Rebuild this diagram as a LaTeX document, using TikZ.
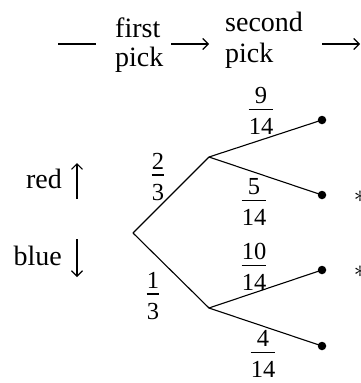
\documentclass[tikz,border=0pt]{standalone}
\usepackage{fontspec}
\setmainfont{Liberation Serif}
\usetikzlibrary{arrows.meta}
\newcommand{\fracat}[5]{%
  \node[frc,anchor=base] (#1n) at (#2,#3-5) {#4};
  \node[frc,anchor=base] (#1d) at (#2,#3+26.5) {#5};
  \draw[barl] ([yshift=9pt]#1d.north west) -- ([yshift=9pt]#1d.north east);}
\begin{document}
\begin{tikzpicture}[x=1pt,y=-1pt,
  txt/.style={inner sep=0pt,font=\fontsize{28}{30}\selectfont},
  frc/.style={inner sep=0pt,font=\fontsize{24.5}{26}\selectfont},
  barl/.style={line width=1.2pt},
  dotnode/.style={circle,fill=black,inner sep=0pt,minimum size=8.5pt},
  edge/.style={line width=1.1pt},
  arr/.style={line width=1.1pt,-{Straight Barb[length=5.5pt,width=11pt,line width=1.1pt]}},
  astk/.style={inner sep=0pt,font=\fontsize{28}{30}\selectfont}]
\useasboundingbox (0,0) rectangle (361,383);
\clip (0,0) rectangle (361,383);
% header
\node[txt,anchor=base west] (first) at (115,37) {first};
\node[txt,anchor=base west] (pick1) at (115,66) {pick};
\node[txt,anchor=base west] (second) at (225,31) {second};
\node[txt,anchor=base west] (pick2) at (225,62) {pick};
\coordinate (d1) at (58,44);
\coordinate (d2) at (96,44);
\coordinate (a1) at (171,44);
\coordinate (a2) at (209,44);
\coordinate (a3) at (322,44);
\coordinate (a4) at (360,44);
\draw[edge] (d1) -- (d2);
\draw[arr] (a1) -- (a2);
\draw[arr] (a3) -- (a4);
% side labels
\node[txt,anchor=base east] (red) at (62,188) {red};
\node[txt,anchor=base east] (blue) at (62,265) {blue};
\coordinate (u1) at (77,199);
\coordinate (u2) at (77,163);
\coordinate (v1) at (77,239);
\coordinate (v2) at (77,277);
\draw[arr] (u1) -- (u2);
\draw[arr] (v1) -- (v2);
% tree
\coordinate (root) at (133,233);
\coordinate (mr) at (209,157);
\coordinate (mb) at (209,308);
\node[dotnode] (rr) at (322,120) {};
\node[dotnode] (rb) at (322,195) {};
\node[dotnode] (br) at (322,270) {};
\node[dotnode] (bb) at (322,346) {};
\draw[edge] (root) -- (mr) -- (rr.center);
\draw[edge] (mr) -- (rb.center);
\draw[edge] (root) -- (mb) -- (br.center);
\draw[edge] (mb) -- (bb.center);
% fractions
\fracat{f23}{158}{174}{2}{3}
\fracat{f13}{153}{293}{1}{3}
\fracat{f914}{261}{108}{9}{14}
\fracat{f514}{254}{199}{5}{14}
\fracat{f1014}{254}{264}{10}{14}
\fracat{f414}{263}{351}{4}{14}
% asterisks
\node[astk] (s1) at (360,197) {$\ast$};
\node[astk] (s2) at (360,272) {$\ast$};
\end{tikzpicture}
\end{document}
